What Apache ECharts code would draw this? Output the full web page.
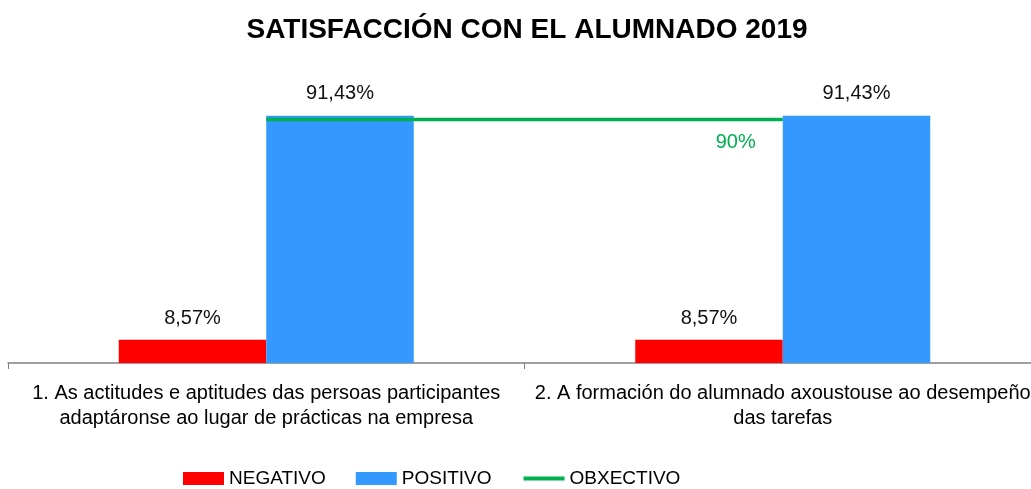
<!DOCTYPE html>
<html>
<head>
<meta charset="utf-8">
<script src="https://cdn.jsdelivr.net/npm/echarts@6/dist/echarts.min.js"></script>
<style>html,body{margin:0;padding:0;background:#fff}#c{width:1031px;height:489px}</style>
</head>
<body>
<div id="c"></div>
<script>
var categories = [
  "1. As actitudes e aptitudes das persoas participantes\nadaptáronse ao lugar de prácticas na empresa",
  "2. A formación do alumnado axoustouse ao desempeño\ndas tarefas"
];
var negativo = [8.57, 8.57];
var positivo = [91.43, 91.43];
var obxectivo = [90, 90];

var FONT = "'Liberation Sans', Arial, sans-serif";
function pct(p) { return p.value.toFixed(2).replace('.', ',') + '%'; }

var chart = echarts.init(document.getElementById('c'));
chart.setOption({
  animation: false,
  textStyle: { fontFamily: FONT },
  title: {
    text: 'SATISFACCIÓN CON EL ALUMNADO 2019',
    left: 522, top: 11, textAlign: 'center',
    textStyle: { fontFamily: FONT, fontSize: 28, fontWeight: 'bold', color: '#000' }
  },
  legend: {
    left: 183, top: 469, padding: 0,
    itemWidth: 41, itemHeight: 13, itemGap: 30,
    textStyle: { fontFamily: FONT, fontSize: 19, color: '#000' },
    data: [
      { name: 'NEGATIVO', icon: 'rect' },
      { name: 'POSITIVO', icon: 'rect' },
      { name: 'OBXECTIVO', itemStyle: { opacity: 0 }, lineStyle: { width: 4, color: '#00B050' } }
    ]
  },
  grid: { left: 8, width: 1033, top: 92.5, bottom: 126, containLabel: false, outerBoundsMode: 'none' },
  xAxis: {
    type: 'category',
    data: categories,
    axisLine: { lineStyle: { color: '#808080', width: 1.5 } },
    axisTick: { show: true, length: 6, lineStyle: { color: '#808080' } },
    axisLabel: { fontFamily: FONT, fontSize: 20, color: '#000', lineHeight: 25, margin: 18, interval: 0 }
  },
  yAxis: {
    type: 'value', min: 0, max: 100, show: false,
    splitLine: { show: false }
  },
  series: [
    {
      name: 'NEGATIVO', type: 'bar', data: negativo, barWidth: 147.5, barGap: '0%',
      itemStyle: { color: '#FF0000' },
      label: { show: true, position: 'top', distance: 11, formatter: pct, fontFamily: FONT, fontSize: 20, color: '#111' }
    },
    {
      name: 'POSITIVO', type: 'bar', data: positivo, barWidth: 147.5, barGap: '0%',
      itemStyle: { color: '#3399FF' },
      label: { show: true, position: 'top', distance: 12, formatter: pct, fontFamily: FONT, fontSize: 20, color: '#111' }
    },
    {
      name: 'OBXECTIVO', type: 'line', symbol: 'circle', symbolSize: 0.1, showSymbol: true, z: 5,
      lineStyle: { color: '#00B050', width: 3.5 },
      itemStyle: { color: '#00B050' },
      label: {
        show: true, position: 'bottom', distance: 13, offset: [-47, 0],
        fontFamily: FONT, fontSize: 20, color: '#00B050',
        formatter: function (p) { return p.dataIndex === obxectivo.length - 1 ? p.value + '%' : ''; }
      },
      data: obxectivo
    }
  ]
});
</script>
</body>
</html>
